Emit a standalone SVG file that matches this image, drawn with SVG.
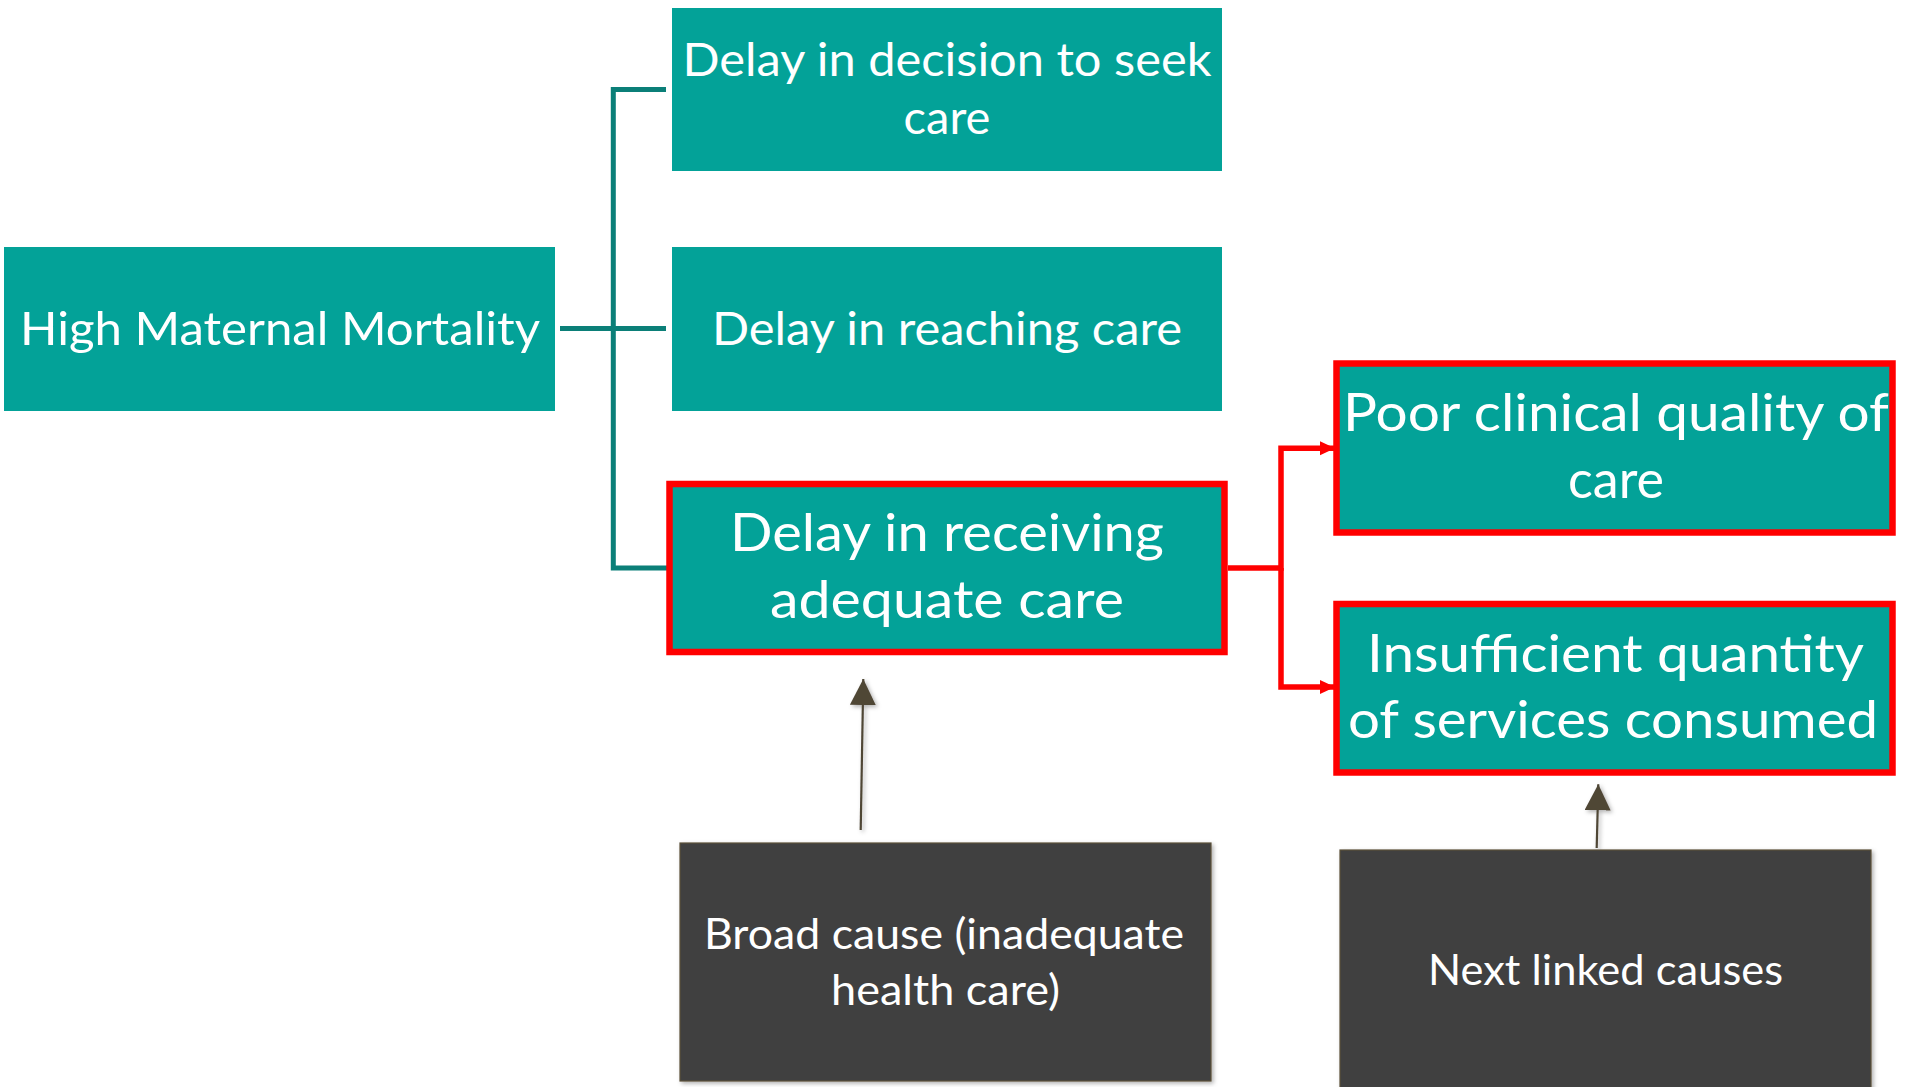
<svg xmlns="http://www.w3.org/2000/svg" width="1905" height="1087" viewBox="0 0 1905 1087">
<style>
.teal{fill:#03A298}
.hl{stroke:#FF0000;stroke-width:6.5}
.dark{fill:#404040;stroke:#5A5038;stroke-width:1.2}
text{font-family:Lato,"Liberation Sans",sans-serif;fill:#FFFFFF;text-anchor:middle}
.t50{font-size:47px}
.t56{font-size:52px}
.t46{font-size:43px}
.tc{fill:none;stroke:#0B7F78;stroke-width:5}
.rc{fill:none;stroke:#FF0000;stroke-width:5.5}
.ac{fill:none;stroke:#4F4636;stroke-width:2.2}
</style>
<defs>
<filter id="sh" filterUnits="userSpaceOnUse" x="0" y="0" width="1905" height="1087">
<feDropShadow dx="2" dy="2" stdDeviation="2" flood-color="#000" flood-opacity="0.3"/>
</filter>
<marker id="ra" markerUnits="userSpaceOnUse" markerWidth="16" markerHeight="16" refX="15" refY="7" orient="auto">
<path d="M0,0 L15,7 L0,14 Z" fill="#FF0000"/>
</marker>
<marker id="da" markerUnits="userSpaceOnUse" markerWidth="28" markerHeight="28" refX="26" refY="13" orient="auto">
<path d="M0,0 L26,13 L0,26 Z" fill="#4F4636"/>
</marker>
</defs>
<g id="connectors">
<path class="tc" d="M666,89.5 H613.3 V568 H668"/>
<path class="tc" d="M560,328.5 H666"/>
<path class="rc" d="M1228,568 H1281 V448.3 H1335" marker-end="url(#ra)"/>
<path class="rc" d="M1281,568 V687 H1335" marker-end="url(#ra)"/>
<path class="ac" d="M860.7,830 L863.3,679" marker-end="url(#da)" filter="url(#sh)"/>
<path class="ac" d="M1596.7,848 L1598.3,784.3" marker-end="url(#da)" filter="url(#sh)"/>
</g>
<g id="n-hmm">
<rect class="teal" x="4" y="247" width="551" height="164"/>
<text class="t50" x="280" y="345" textLength="520" lengthAdjust="spacingAndGlyphs">High Maternal Mortality</text>
</g>
<g id="n-decision">
<rect class="teal" x="672" y="8" width="550" height="163"/>
<text class="t50" x="947" y="76" textLength="529" lengthAdjust="spacingAndGlyphs">Delay in decision to seek</text>
<text class="t50" x="947" y="134">care</text>
</g>
<g id="n-reaching">
<rect class="teal" x="672" y="247" width="550" height="164"/>
<text class="t50" x="947" y="345" textLength="470" lengthAdjust="spacingAndGlyphs">Delay in reaching care</text>
</g>
<g id="n-receiving">
<rect class="teal hl" x="669.5" y="484" width="555" height="168"/>
<text class="t56" x="947" y="551" textLength="434" lengthAdjust="spacingAndGlyphs">Delay in receiving</text>
<text class="t56" x="947" y="618" textLength="354" lengthAdjust="spacingAndGlyphs">adequate care</text>
</g>
<g id="n-poor">
<rect class="teal hl" x="1336.5" y="363.5" width="556" height="169"/>
<text class="t56" x="1616" y="431" textLength="546" lengthAdjust="spacingAndGlyphs">Poor clinical quality of</text>
<text class="t56" x="1616" y="498">care</text>
</g>
<g id="n-insufficient">
<rect class="teal hl" x="1336.5" y="604" width="556" height="168.5"/>
<text class="t56" x="1615.5" y="672" textLength="497" lengthAdjust="spacingAndGlyphs">Insufficient quantity</text>
<text class="t56" x="1613" y="738" textLength="530" lengthAdjust="spacingAndGlyphs">of services consumed</text>
</g>
<g id="n-broad">
<rect class="dark" x="680" y="843" width="531" height="238" filter="url(#sh)"/>
<text class="t46" x="944" y="949" textLength="480" lengthAdjust="spacingAndGlyphs">Broad cause (inadequate</text>
<text class="t46" x="945.5" y="1005" textLength="229" lengthAdjust="spacingAndGlyphs">health care)</text>
</g>
<g id="n-next">
<rect class="dark" x="1340" y="850" width="531" height="245" filter="url(#sh)"/>
<text class="t46" x="1605.5" y="984.5" textLength="355" lengthAdjust="spacingAndGlyphs">Next linked causes</text>
</g>
</svg>
